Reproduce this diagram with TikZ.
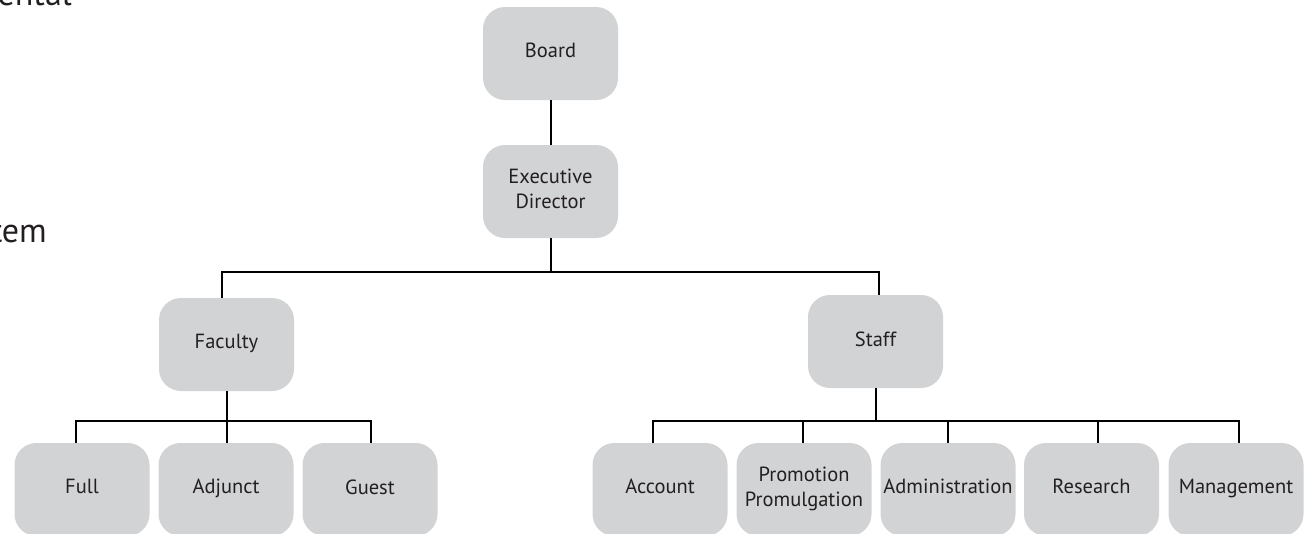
\documentclass[tikz,border=0pt]{standalone}
\usepackage{fontspec}
\setmainfont{PT Sans}
\definecolor{boxfill}{HTML}{D1D3D4}
\definecolor{ink}{HTML}{231F20}
\newcommand\boxstrut{\rule[-5.6pt]{0pt}{20pt}}
\begin{document}
\begin{tikzpicture}[x=1pt,y=-1pt,
  orgbox/.style={fill=boxfill, rounded corners=22pt, minimum width=135pt, minimum height=93pt, inner sep=0pt, align=center, font=\fontsize{20.5}{25}\selectfont, text=ink, execute at begin node=\boxstrut, execute at end node=\boxstrut},
  link/.style={draw=black, line width=2pt},
  cuttext/.style={anchor=base east, inner sep=0pt, font=\fontsize{34}{40}\selectfont, text=ink}]
\useasboundingbox (0,0) rectangle (1312,533);
\clip (0,0) rectangle (1312,533);
% cut-off texts
\node[cuttext] (t1) at (72,5) {ental};
\node[cuttext] (t2) at (47,242) {tem};
% boxes
\node[orgbox] (board) at (550.5,53.5) {Board};
\node[orgbox] (exec) at (550.5,191.5) {Executive\\Director};
\node[orgbox] (fac) at (226.5,344.5) {Faculty};
\node[orgbox] (staff) at (875.5,341.5) {Staff};
\node[orgbox] (full) at (82,489.5) {Full};
\node[orgbox] (adj) at (226,489.5) {Adjunct};
\node[orgbox] (guest) at (370,489.5) {Guest};
\node[orgbox] (acc) at (660,489.5) {Account};
\node[orgbox] (prom) at (804,489.5) {Promotion\\Promulgation};
\node[orgbox] (adm) at (948,489.5) {Administration};
\node[orgbox] (res) at (1091.5,489.5) {Research};
\node[orgbox] (man) at (1236,489.5) {Management};
% bus levels
\coordinate (busA) at (0,272);
\coordinate (busB) at (0,421);
% connectors
\draw[link] (board.south) -- (exec.north);
\draw[link] (exec.south) -- (exec.south |- busA);
\draw[link] ([xshift=-4.5pt]fac.north) |- ([xshift=3.5pt]staff.north |- busA) -- ([xshift=3.5pt]staff.north);
\draw[link] ([xshift=0.5pt]fac.south) -- ([xshift=0.5pt]fac.south |- busB);
\draw[link] ([xshift=-6pt]full.north) |- ([xshift=1pt]guest.north |- busB) -- ([xshift=1pt]guest.north);
\draw[link] ([xshift=1pt]adj.north) -- ([xshift=1pt]adj.north |- busB);
\draw[link] ([xshift=0.5pt]staff.south) -- ([xshift=0.5pt]staff.south |- busB);
\draw[link] ([xshift=-7pt]acc.north) |- ([xshift=3pt]man.north |- busB) -- ([xshift=3pt]man.north);
\draw[link] ([xshift=-1pt]prom.north) -- ([xshift=-1pt]prom.north |- busB);
\draw[link] (adm.north) -- (adm.north |- busB);
\draw[link] ([xshift=6.5pt]res.north) -- ([xshift=6.5pt]res.north |- busB);
\end{tikzpicture}
\end{document}
